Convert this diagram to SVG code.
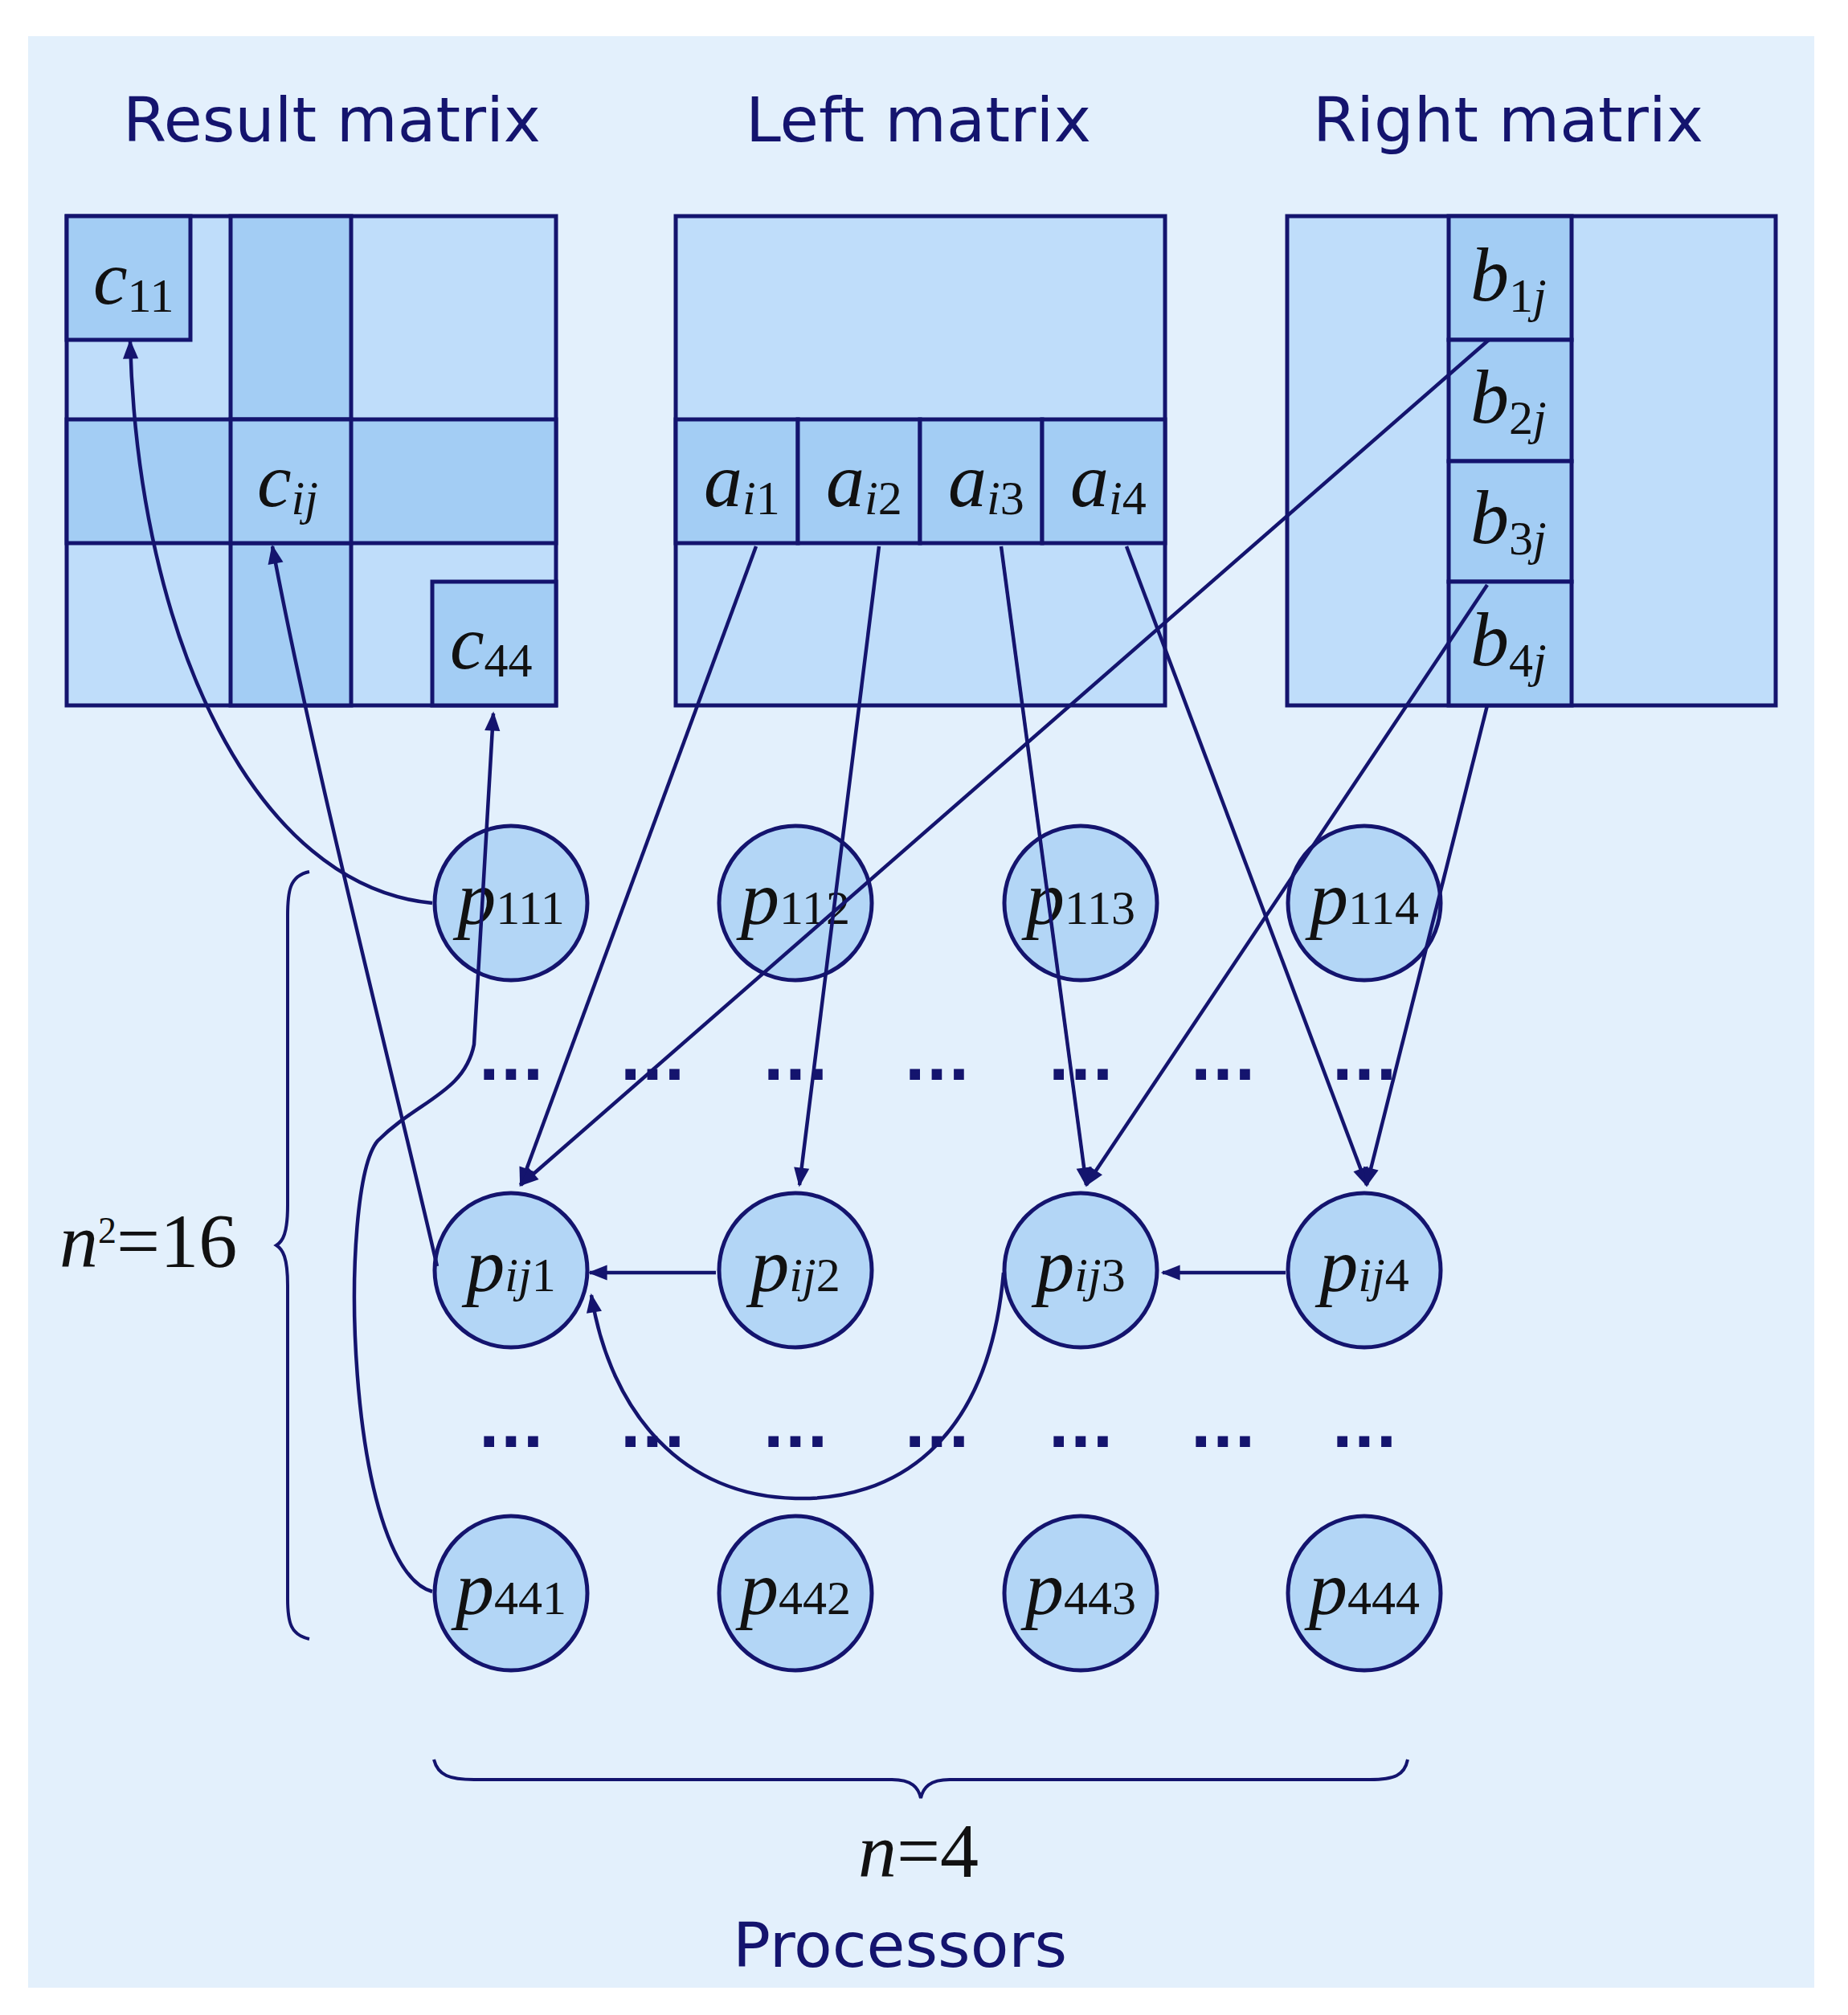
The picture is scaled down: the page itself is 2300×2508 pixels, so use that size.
<svg xmlns="http://www.w3.org/2000/svg" width="2300" height="2508" viewBox="0 0 2300 2508">
<defs>
<marker id="a" viewBox="0 0 10 10" refX="9" refY="5" markerWidth="28" markerHeight="24" orient="auto" markerUnits="userSpaceOnUse"><path d="M0,1 L10,5 L0,9 z" fill="#14146e"/></marker>
</defs>
<style>
.t{font-family:"DejaVu Sans",Verdana,sans-serif;font-size:76px;fill:#14146e;text-anchor:middle}
.m{font-family:"Liberation Serif",serif;font-size:96px;font-style:italic;fill:#111}
.s{font-size:60px}
.u{font-style:normal}
.p{font-family:"Liberation Serif",serif;font-size:96px;font-style:italic;fill:#111;text-anchor:middle}
.l{fill:#bfddfa;stroke:#14146e;stroke-width:5}
.d{fill:#a3cdf4;stroke:#14146e;stroke-width:5}
.c{fill:#b3d6f6;stroke:#14146e;stroke-width:5}
.e{fill:none;stroke:#14146e;stroke-width:4}
.ar{fill:none;stroke:#14146e;stroke-width:4.5;marker-end:url(#a)}
.dots{font-family:"DejaVu Sans",sans-serif;font-size:72px;font-weight:bold;fill:#14146e;text-anchor:middle}
</style>
<rect x="0" y="0" width="2300" height="2508" fill="#fff"/>
<rect x="35" y="45" width="2223" height="2429" fill="#e3f0fc"/>
<g id="titles">
<text class="t" x="413" y="176" textLength="520" lengthAdjust="spacingAndGlyphs">Result matrix</text>
<text class="t" x="1143" y="176" textLength="430" lengthAdjust="spacingAndGlyphs">Left matrix</text>
<text class="t" x="1877" y="176" textLength="486" lengthAdjust="spacingAndGlyphs">Right matrix</text>
</g>
<g id="result-matrix">
<rect class="l" x="83" y="269" width="609" height="609"/>
<rect class="d" x="287" y="269" width="150" height="609"/>
<rect class="d" x="83" y="522" width="609" height="154"/>
<rect class="d" x="287" y="522" width="150" height="154"/>
<rect class="d" x="83" y="269" width="154" height="154"/>
<rect class="d" x="538" y="724" width="154" height="154"/>
<rect class="e" x="83" y="269" width="609" height="609" stroke-width="6"/>
<text class="m" x="116" y="378">c<tspan class="s u" dy="10">11</tspan></text>
<text class="m" x="320" y="630">c<tspan class="s" dy="10">ij</tspan></text>
<text class="m" x="560" y="832">c<tspan class="s u" dy="10">44</tspan></text>
</g>
<g id="left-matrix">
<rect class="l" x="841" y="269" width="609" height="609"/>
<rect class="d" x="841" y="522" width="152" height="154"/>
<rect class="d" x="993" y="522" width="152" height="154"/>
<rect class="d" x="1145" y="522" width="152" height="154"/>
<rect class="d" x="1297" y="522" width="153" height="154"/>
<text class="m" x="876" y="630">a<tspan class="s" dy="10">i</tspan><tspan class="s u">1</tspan></text>
<text class="m" x="1028" y="630">a<tspan class="s" dy="10">i</tspan><tspan class="s u">2</tspan></text>
<text class="m" x="1180" y="630">a<tspan class="s" dy="10">i</tspan><tspan class="s u">3</tspan></text>
<text class="m" x="1332" y="630">a<tspan class="s" dy="10">i</tspan><tspan class="s u">4</tspan></text>
</g>
<g id="right-matrix">
<rect class="l" x="1602" y="269" width="608" height="609"/>
<rect class="d" x="1803" y="269" width="153" height="154"/>
<rect class="d" x="1803" y="423" width="153" height="151"/>
<rect class="d" x="1803" y="574" width="153" height="150"/>
<rect class="d" x="1803" y="724" width="153" height="154"/>
<text class="m" x="1830" y="374">b<tspan class="s u" dy="14">1</tspan><tspan class="s">j</tspan></text>
<text class="m" x="1830" y="526">b<tspan class="s u" dy="14">2</tspan><tspan class="s">j</tspan></text>
<text class="m" x="1830" y="676">b<tspan class="s u" dy="14">3</tspan><tspan class="s">j</tspan></text>
<text class="m" x="1830" y="828">b<tspan class="s u" dy="14">4</tspan><tspan class="s">j</tspan></text>
</g>
<g id="processors">
<g id="p111"><ellipse class="c" cx="636" cy="1124" rx="95" ry="96"/><text class="p" x="636" y="1150">p<tspan class="s u">111</tspan></text></g>
<g id="p112"><ellipse class="c" cx="990" cy="1124" rx="95" ry="96"/><text class="p" x="990" y="1150">p<tspan class="s u">112</tspan></text></g>
<g id="p113"><ellipse class="c" cx="1345" cy="1124" rx="95" ry="96"/><text class="p" x="1345" y="1150">p<tspan class="s u">113</tspan></text></g>
<g id="p114"><ellipse class="c" cx="1698" cy="1124" rx="95" ry="96"/><text class="p" x="1698" y="1150">p<tspan class="s u">114</tspan></text></g>
<g id="pij1"><ellipse class="c" cx="636" cy="1581" rx="95" ry="96"/><text class="p" x="636" y="1607">p<tspan class="s">ij</tspan><tspan class="s u">1</tspan></text></g>
<g id="pij2"><ellipse class="c" cx="990" cy="1581" rx="95" ry="96"/><text class="p" x="990" y="1607">p<tspan class="s">ij</tspan><tspan class="s u">2</tspan></text></g>
<g id="pij3"><ellipse class="c" cx="1345" cy="1581" rx="95" ry="96"/><text class="p" x="1345" y="1607">p<tspan class="s">ij</tspan><tspan class="s u">3</tspan></text></g>
<g id="pij4"><ellipse class="c" cx="1698" cy="1581" rx="95" ry="96"/><text class="p" x="1698" y="1607">p<tspan class="s">ij</tspan><tspan class="s u">4</tspan></text></g>
<g id="p441"><ellipse class="c" cx="636" cy="1983" rx="95" ry="96"/><text class="p" x="636" y="2009">p<tspan class="s u">441</tspan></text></g>
<g id="p442"><ellipse class="c" cx="990" cy="1983" rx="95" ry="96"/><text class="p" x="990" y="2009">p<tspan class="s u">442</tspan></text></g>
<g id="p443"><ellipse class="c" cx="1345" cy="1983" rx="95" ry="96"/><text class="p" x="1345" y="2009">p<tspan class="s u">443</tspan></text></g>
<g id="p444"><ellipse class="c" cx="1698" cy="1983" rx="95" ry="96"/><text class="p" x="1698" y="2009">p<tspan class="s u">444</tspan></text></g>
</g>
<g id="dots">
<text class="dots" x="636" y="1344">...</text><text class="dots" x="812" y="1344">...</text><text class="dots" x="990" y="1344">...</text><text class="dots" x="1166" y="1344">...</text><text class="dots" x="1345" y="1344">...</text><text class="dots" x="1522" y="1344">...</text><text class="dots" x="1698" y="1344">...</text>
<text class="dots" x="636" y="1801">...</text><text class="dots" x="812" y="1801">...</text><text class="dots" x="990" y="1801">...</text><text class="dots" x="1166" y="1801">...</text><text class="dots" x="1345" y="1801">...</text><text class="dots" x="1522" y="1801">...</text><text class="dots" x="1698" y="1801">...</text>
</g>
<g id="connectors">
<path class="ar" d="M538 1124 C 320 1104, 172 800, 162 425"/>
<path class="ar" d="M544 1576 C 480 1300, 390 950, 339 680"/>
<path class="ar" d="M538 1981 C 430 1950, 420 1480, 470 1420 C 520 1370, 578 1360, 590 1300 L 614 888"/>
<path class="ar" d="M941 680 L 648 1475"/>
<path class="ar" d="M1094 680 L 995 1475"/>
<path class="ar" d="M1246 680 L 1352 1475"/>
<path class="ar" d="M1402 680 L 1701 1475"/>
<path class="ar" d="M1853 423 L 648 1475"/>
<path class="ar" d="M1851 728 L 1352 1475"/>
<path class="ar" d="M1851 878 L 1701 1475"/>
<path class="ar" d="M891 1584 L 734 1584"/>
<path class="ar" d="M1600 1584 L 1447 1584"/>
<path class="ar" d="M1249 1584 C 1230 1800, 1110 1868, 990 1865 C 850 1862, 760 1760, 736 1612"/>
</g>
<g id="braces">
<path class="e" d="M385 1085 C 360 1090, 358 1110, 358 1140 L 358 1500 C 358 1535, 352 1545, 344 1550 C 352 1555, 358 1565, 358 1600 L 358 1990 C 358 2020, 362 2035, 385 2040"/>
<path class="e" d="M540 2190 C 545 2210, 560 2215, 590 2215 L 1110 2215 C 1135 2215, 1143 2225, 1146 2238 C 1149 2225, 1157 2215, 1182 2215 L 1705 2215 C 1735 2215, 1748 2210, 1752 2190"/>
</g>
<g id="labels">
<text class="m" x="74" y="1577" font-size="76">n<tspan class="u" font-size="46" dy="-30">2</tspan><tspan class="u" dy="30">=16</tspan></text>
<text class="m" x="1143" y="2336" font-size="76" text-anchor="middle">n<tspan class="u">=4</tspan></text>
<text class="t" x="1120" y="2448" textLength="416" lengthAdjust="spacingAndGlyphs">Processors</text>
</g>
</svg>
